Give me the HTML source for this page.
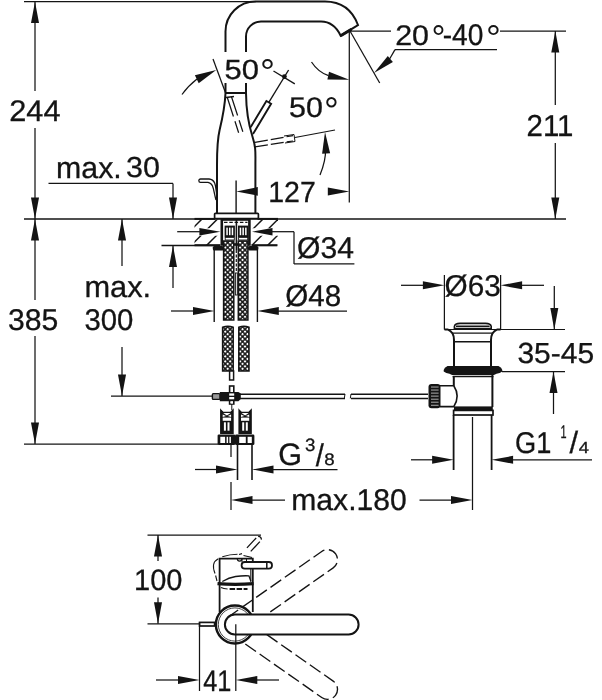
<!DOCTYPE html>
<html><head><meta charset="utf-8"><title>Drawing</title>
<style>
html,body{margin:0;padding:0;background:#fff;}
svg{display:block;will-change:transform;}
text{font-family:"Liberation Sans",sans-serif;fill:#141414;text-rendering:geometricPrecision;}
</style></head><body>
<svg width="602" height="700" viewBox="0 0 602 700">
<rect width="602" height="700" fill="#fff"/>
<line x1="24" y1="1.5" x2="256" y2="1.5" stroke="#141414" stroke-width="1.25" />
<line x1="24" y1="219" x2="566" y2="219" stroke="#141414" stroke-width="1.3" />
<line x1="24" y1="444" x2="218" y2="444" stroke="#141414" stroke-width="1.25" />
<line x1="35" y1="2" x2="35" y2="91" stroke="#141414" stroke-width="1.25" />
<line x1="35" y1="128" x2="35" y2="300" stroke="#141414" stroke-width="1.25" />
<line x1="35" y1="336" x2="35" y2="444" stroke="#141414" stroke-width="1.25" />
<polygon points="35.0,1.5 39.0,23.0 31.0,23.0" fill="#141414"/>
<polygon points="35.0,219.0 31.0,197.5 39.0,197.5" fill="#141414"/>
<polygon points="35.0,219.0 39.0,240.5 31.0,240.5" fill="#141414"/>
<polygon points="35.0,444.0 31.0,422.5 39.0,422.5" fill="#141414"/>
<text x="9.26" y="121.20" font-size="29.86" textLength="51.27" lengthAdjust="spacingAndGlyphs" stroke="#141414" stroke-width="0.3">244</text>
<text x="8.09" y="329.50" font-size="30.0" textLength="50.32" lengthAdjust="spacingAndGlyphs" stroke="#141414" stroke-width="0.3">385</text>
<text x="56.13" y="177.60" font-size="30" textLength="65.66" lengthAdjust="spacingAndGlyphs" stroke="#141414" stroke-width="0.3">max.</text>
<text x="125.98" y="177.31" font-size="28.87" textLength="33.91" lengthAdjust="spacingAndGlyphs" stroke="#141414" stroke-width="0.3">30</text>
<line x1="48.5" y1="183.4" x2="173" y2="183.4" stroke="#141414" stroke-width="1.25" />
<line x1="173" y1="183.4" x2="173" y2="219" stroke="#141414" stroke-width="1.25" />
<polygon points="173.0,219.0 169.0,197.5 177.0,197.5" fill="#141414"/>
<line x1="161.5" y1="245.5" x2="220" y2="245.5" stroke="#141414" stroke-width="1.3" />
<line x1="252" y1="245.5" x2="277" y2="245.5" stroke="#141414" stroke-width="1.3" />
<polygon points="173.0,245.5 177.0,267.0 169.0,267.0" fill="#141414"/>
<line x1="173" y1="245.5" x2="173" y2="288" stroke="#141414" stroke-width="1.25" />
<polygon points="122.0,219.0 126.0,240.5 118.0,240.5" fill="#141414"/>
<line x1="122" y1="219" x2="122" y2="266" stroke="#141414" stroke-width="1.25" />
<text x="84.40" y="297.40" font-size="30" textLength="66.74" lengthAdjust="spacingAndGlyphs" stroke="#141414" stroke-width="0.3">max.</text>
<text x="84.43" y="329.50" font-size="30.0" textLength="48.95" lengthAdjust="spacingAndGlyphs" stroke="#141414" stroke-width="0.3">300</text>
<line x1="122" y1="347" x2="122" y2="396" stroke="#141414" stroke-width="1.25" />
<polygon points="122.0,396.0 118.0,374.5 126.0,374.5" fill="#141414"/>
<line x1="111" y1="396" x2="213" y2="396" stroke="#141414" stroke-width="1.25" />
<path d="M225.5,93 V83 M225.5,52 V31.5 A30,30 0 0 1 255.5,1.5 H325 C340,1.5 352,9 358,25 L340.7,35.7 C336,26 330,21.5 321,21.5 H261 A15,15 0 0 0 246,36.5 V52 M246,83 V93" fill="none" stroke="#141414" stroke-width="2.0" />
<line x1="340.7" y1="35.7" x2="351.5" y2="29.3" stroke="#141414" stroke-width="3" />
<line x1="225.5" y1="93" x2="246" y2="93" stroke="#141414" stroke-width="2.0" />
<path d="M225.5,93 C225,105 222,120 219.6,130 S217,150 217,165 V213.6 M246,93 C246.2,110 248.5,124 252.3,136 S255.4,152 255.4,165 V213.6" fill="none" stroke="#141414" stroke-width="2.0" />
<rect x="214.6" y="213.3" width="43.8" height="5.2" rx="0.8" fill="#fff" stroke="#141414" stroke-width="1.7" />
<text x="224.56" y="79.22" font-size="27.75" textLength="34.45" lengthAdjust="spacingAndGlyphs" stroke="#141414" stroke-width="0.3">50</text>
<text x="260.05" y="84.00" font-size="35.71" textLength="15.00" lengthAdjust="spacingAndGlyphs">°</text>
<text x="288.98" y="116.92" font-size="28.45" textLength="33.91" lengthAdjust="spacingAndGlyphs" stroke="#141414" stroke-width="0.3">50</text>
<text x="324.07" y="123.00" font-size="37.14" textLength="14.85" lengthAdjust="spacingAndGlyphs">°</text>
<line x1="213" y1="59" x2="225.6" y2="93" stroke="#141414" stroke-width="1.25" />
<path d="M182,94.5 Q188,86 197,79" fill="none" stroke="#141414" stroke-width="1.25" />
<polygon points="216.2,70.0 198.7,83.3 194.9,75.2" fill="#141414"/>
<path d="M250.6,127.2 L266.4,101.0 L271.1,103.8 L253.0,134.0" fill="none" stroke="#141414" stroke-width="1.9" />
<line x1="268.8" y1="102.4" x2="288.6" y2="70.0" stroke="#141414" stroke-width="1.35" />
<circle cx="284.4" cy="76.6" r="2.4" fill="#141414"/>
<line x1="273.5" y1="71.0" x2="294.8" y2="83.8" stroke="#141414" stroke-width="1.35" />
<path d="M227.3,97.5 L240,137 M231.4,96.5 L243.6,134" fill="none" stroke="#141414" stroke-width="1.25" stroke-dasharray="20 5 12 5"/>
<line x1="226" y1="97.5" x2="234" y2="96.5" stroke="#141414" stroke-width="1.6" />
<path d="M255,142.3 L293,135.6 M255,146.8 L293,141" fill="none" stroke="#141414" stroke-width="1.25" stroke-dasharray="13 3"/>
<path d="M284,136 L294,134.5 L295,141.5 L285,143" fill="none" stroke="#141414" stroke-width="1.0" />
<line x1="295" y1="137.5" x2="335" y2="130" stroke="#141414" stroke-width="1.25" />
<path d="M320,175 Q326,160 325.5,150" fill="none" stroke="#141414" stroke-width="1.25" />
<polygon points="325.0,132.0 330.1,153.3 322.1,153.7" fill="#141414"/>
<line x1="236.1" y1="180.5" x2="236.1" y2="213.3" stroke="#141414" stroke-width="1.4" />
<polygon points="236.3,191.4 257.8,187.1 257.8,195.7" fill="#141414"/>
<polygon points="349.3,191.6 327.8,195.6 327.8,187.6" fill="#141414"/>
<text x="268.26" y="202.20" font-size="29.14" textLength="47.56" lengthAdjust="spacingAndGlyphs" stroke="#141414" stroke-width="0.3">127</text>
<line x1="349.3" y1="31" x2="349.3" y2="202.5" stroke="#141414" stroke-width="1.25" />
<line x1="350" y1="31" x2="391" y2="31" stroke="#141414" stroke-width="1.25" />
<line x1="350" y1="31" x2="379.7" y2="83" stroke="#141414" stroke-width="1.25" />
<path d="M311.5,62 Q318,72 328.5,75.7" fill="none" stroke="#141414" stroke-width="1.25" />
<polygon points="349.3,79.7 327.4,79.5 329.0,71.7" fill="#141414"/>
<text x="395.18" y="45.02" font-size="28.45" textLength="33.81" lengthAdjust="spacingAndGlyphs" stroke="#141414" stroke-width="0.3">20</text>
<text x="431.40" y="50.00" font-size="35.71" textLength="14.00" lengthAdjust="spacingAndGlyphs">°</text>
<text x="442.73" y="45.20" font-size="30" textLength="40.70" lengthAdjust="spacingAndGlyphs" stroke="#141414" stroke-width="0.3">-40</text>
<text x="485.97" y="50.00" font-size="35.71" textLength="14.85" lengthAdjust="spacingAndGlyphs">°</text>
<line x1="395" y1="49.6" x2="497" y2="49.6" stroke="#141414" stroke-width="1.25" />
<line x1="395" y1="49.6" x2="389" y2="60" stroke="#141414" stroke-width="1.25" />
<polygon points="374.0,73.0 387.8,56.0 392.9,62.1" fill="#141414"/>
<line x1="500" y1="31" x2="566" y2="31" stroke="#141414" stroke-width="1.25" />
<line x1="555.3" y1="31" x2="555.3" y2="105" stroke="#141414" stroke-width="1.25" />
<line x1="555.3" y1="143" x2="555.3" y2="219" stroke="#141414" stroke-width="1.25" />
<polygon points="555.3,31.0 559.3,52.5 551.3,52.5" fill="#141414"/>
<polygon points="555.3,219.0 551.3,197.5 559.3,197.5" fill="#141414"/>
<text x="526.53" y="135.80" font-size="30.29" textLength="46.92" lengthAdjust="spacingAndGlyphs" stroke="#141414" stroke-width="0.3">211</text>
<path d="M216,200 C213.5,192 214,183 208,182.3 H200.5 A1.6,1.6 0 0 1 200.5,179 H209 C217,179.5 215.5,190 217,196" fill="none" stroke="#141414" stroke-width="1.3" />
<defs><pattern id="braid" width="3.5" height="3.5" patternUnits="userSpaceOnUse" patternTransform="rotate(45 0 0)"><rect width="3.5" height="3.5" fill="#141414"/><rect x="0.8" y="0.8" width="2.0" height="2.0" fill="#fff"/></pattern>
<clipPath id="hl"><rect x="194.5" y="219.5" width="26" height="8.7"/><rect x="194.5" y="235.8" width="26" height="9.5"/></clipPath>
<clipPath id="hr"><rect x="251.5" y="219.5" width="26.5" height="8.7"/><rect x="251.5" y="235.8" width="26.5" height="9.5"/></clipPath></defs>
<line x1="171" y1="250" x2="206" y2="215" stroke="#141414" stroke-width="1.5" clip-path="url(#hl)"/>
<line x1="186.5" y1="250" x2="221.5" y2="215" stroke="#141414" stroke-width="1.5" clip-path="url(#hl)"/>
<line x1="202" y1="250" x2="237" y2="215" stroke="#141414" stroke-width="1.5" clip-path="url(#hl)"/>
<line x1="232" y1="250" x2="267" y2="215" stroke="#141414" stroke-width="1.5" clip-path="url(#hr)"/>
<line x1="247.3" y1="250" x2="282.3" y2="215" stroke="#141414" stroke-width="1.5" clip-path="url(#hr)"/>
<line x1="263" y1="250" x2="298" y2="215" stroke="#141414" stroke-width="1.5" clip-path="url(#hr)"/>
<line x1="194.5" y1="218.9" x2="215" y2="218.9" stroke="#141414" stroke-width="2.0" />
<line x1="257.5" y1="218.9" x2="278" y2="218.9" stroke="#141414" stroke-width="2.0" />
<line x1="194.5" y1="245.2" x2="220.5" y2="245.2" stroke="#141414" stroke-width="2.0" />
<line x1="251.5" y1="245.2" x2="277.5" y2="245.2" stroke="#141414" stroke-width="2.0" />
<line x1="177.2" y1="231.7" x2="200" y2="231.7" stroke="#141414" stroke-width="1.25" />
<polygon points="220.4,231.7 199.4,235.5 199.4,227.9" fill="#141414"/>
<polygon points="252.0,231.7 272.5,227.9 272.5,235.5" fill="#141414"/>
<line x1="272" y1="231.7" x2="294" y2="231.7" stroke="#141414" stroke-width="1.25" />
<line x1="294" y1="231.7" x2="294" y2="263.9" stroke="#141414" stroke-width="1.25" />
<line x1="294" y1="263.9" x2="354.4" y2="263.9" stroke="#141414" stroke-width="1.25" />
<text x="297.00" y="258.30" font-size="30" textLength="56.91" lengthAdjust="spacingAndGlyphs" stroke="#141414" stroke-width="0.3">Ø34</text>
<rect x="221.8" y="219.5" width="27.6" height="25" rx="0" fill="#fff" stroke="#141414" stroke-width="2.6" />
<line x1="224" y1="222.3" x2="247.5" y2="222.3" stroke="#141414" stroke-width="1.3" stroke-dasharray="3.5 1.8"/>
<rect x="224.6" y="225.6" width="10.3" height="11.6" fill="#141414"/>
<rect x="226.30" y="227.6" width="1.5" height="7.6" fill="#fff"/>
<rect x="229.00" y="227.6" width="1.5" height="7.6" fill="#fff"/>
<rect x="231.70" y="227.6" width="1.5" height="7.6" fill="#fff"/>
<rect x="225.2" y="237.4" width="9.1" height="2.6" fill="#fff" stroke="#141414" stroke-width="0.9"/>
<rect x="238.0" y="225.6" width="10.3" height="11.6" fill="#141414"/>
<rect x="239.70" y="227.6" width="1.5" height="7.6" fill="#fff"/>
<rect x="242.40" y="227.6" width="1.5" height="7.6" fill="#fff"/>
<rect x="245.10" y="227.6" width="1.5" height="7.6" fill="#fff"/>
<rect x="238.6" y="237.4" width="9.1" height="2.6" fill="#fff" stroke="#141414" stroke-width="0.9"/>
<line x1="236.4" y1="220" x2="236.4" y2="250" stroke="#141414" stroke-width="1.6" />
<line x1="236.3" y1="250" x2="236.3" y2="272" stroke="#141414" stroke-width="1.2" stroke-dasharray="3 1.5"/>
<rect x="235.4" y="273" width="1.9" height="22" rx="0" fill="#fff" stroke="#141414" stroke-width="0.9" />
<rect x="212.8" y="246" width="11" height="4.6" rx="1.6" fill="#141414"/>
<rect x="248" y="246" width="10.4" height="4.6" rx="1.6" fill="#141414"/>
<line x1="214.2" y1="250" x2="214.2" y2="322" stroke="#141414" stroke-width="1.4" />
<line x1="257.4" y1="250" x2="257.4" y2="322" stroke="#141414" stroke-width="1.4" />
<rect x="223.6" y="241" width="10.2" height="79" fill="url(#braid)" stroke="#141414" stroke-width="1.5"/>
<rect x="238.3" y="241" width="9.6" height="79" fill="url(#braid)" stroke="#141414" stroke-width="1.5"/>
<path d="M222.6,327.3 Q227.9,325.3 233.2,327.3 V371.0 H222.6 Z" fill="url(#braid)" stroke="#141414" stroke-width="1.5"/>
<path d="M238.8,327.3 Q243.9,325.3 249.0,327.3 V371.0 H238.8 Z" fill="url(#braid)" stroke="#141414" stroke-width="1.5"/>
<line x1="171" y1="311" x2="194" y2="311" stroke="#141414" stroke-width="1.25" />
<polygon points="214.5,311.0 193.0,315.0 193.0,307.0" fill="#141414"/>
<polygon points="257.3,311.0 278.8,307.0 278.8,315.0" fill="#141414"/>
<line x1="278" y1="311" x2="347" y2="311" stroke="#141414" stroke-width="1.25" />
<text x="285.22" y="306.10" font-size="30" textLength="55.97" lengthAdjust="spacingAndGlyphs" stroke="#141414" stroke-width="0.3">Ø48</text>
<rect x="229.6" y="371" width="4.0" height="9" rx="0" fill="#fff" stroke="#141414" stroke-width="1.5" />
<rect x="229.6" y="386" width="4.2" height="18" rx="0" fill="#fff" stroke="#141414" stroke-width="1.6" />
<rect x="212.4" y="393.6" width="7.6" height="5.8" rx="1" fill="#999" stroke="#141414" stroke-width="1.4"/>
<path d="M219.8,391.9 H238.4 L240.8,393.6 V399 L238.4,401.2 H219.8 Z" fill="#141414"/>
<rect x="229.2" y="393.4" width="5" height="2.3" fill="#fff"/>
<rect x="229.2" y="397" width="5" height="2.3" fill="#fff"/>
<rect x="230.6" y="401.6" width="2.4" height="2" fill="#fff"/>
<line x1="231.8" y1="404" x2="231.8" y2="410" stroke="#141414" stroke-width="1.0" />
<path d="M240,394.2 H345 M240,398.4 H345 M351,394.2 H428 M351,398.4 H428" fill="none" stroke="#141414" stroke-width="1.5" />
<line x1="345" y1="394" x2="344.3" y2="398.4" stroke="#141414" stroke-width="1" />
<line x1="351" y1="394" x2="350.3" y2="398.4" stroke="#141414" stroke-width="1" />
<path d="M220.7,409.8 L223.2,412.3 H230.6 L233.1,409.8 V433.5 H220.7 Z" fill="#141414" stroke="#141414" stroke-width="1.2"/>
<path d="M223.2,413 L226.89999999999998,415.6 L230.6,413 Z M222.7,417 L226.09999999999997,416 L222.7,414.5 Z M231.1,417 L227.7,416 L231.1,414.5 Z" fill="#fff"/>
<rect x="222.7" y="417.6" width="8.4" height="3.2" fill="#fff"/>
<rect x="223.90" y="422.3" width="2.0" height="8.4" fill="#fff"/>
<rect x="227.50" y="422.3" width="2.0" height="8.4" fill="#fff"/>
<path d="M239,409.8 L241.5,412.3 H248.7 L251.2,409.8 V433.5 H239 Z" fill="#141414" stroke="#141414" stroke-width="1.2"/>
<path d="M241.5,413 L245.1,415.6 L248.7,413 Z M241,417 L244.29999999999998,416 L241,414.5 Z M249.2,417 L245.9,416 L249.2,414.5 Z" fill="#fff"/>
<rect x="241" y="417.6" width="8.2" height="3.2" fill="#fff"/>
<rect x="242.20" y="422.3" width="2.0" height="8.4" fill="#fff"/>
<rect x="245.80" y="422.3" width="2.0" height="8.4" fill="#fff"/>
<rect x="217.6" y="434.5" width="17.6" height="10.6" rx="1.3" fill="#141414"/>
<rect x="235" y="434.5" width="19.4" height="10.6" rx="1.3" fill="#141414"/>
<rect x="220.3" y="436.8" width="4.8" height="6.2" fill="#fff"/>
<rect x="226.6" y="436.8" width="1.5" height="6.2" fill="#fff"/>
<rect x="229.4" y="436.8" width="1.5" height="6.2" fill="#fff"/>
<rect x="239.2" y="436.8" width="6.6" height="6.2" fill="#fff"/>
<rect x="247.6" y="436.8" width="4.2" height="6.2" fill="#fff"/>
<line x1="231" y1="445" x2="231" y2="457" stroke="#141414" stroke-width="1.25" />
<line x1="231" y1="482" x2="231" y2="510" stroke="#141414" stroke-width="1.25" />
<line x1="237.5" y1="445" x2="237.5" y2="480" stroke="#141414" stroke-width="1.6" />
<line x1="252" y1="445" x2="252" y2="480" stroke="#141414" stroke-width="1.6" />
<line x1="195" y1="469.5" x2="217" y2="469.5" stroke="#141414" stroke-width="1.25" />
<polygon points="237.5,469.5 216.0,473.5 216.0,465.5" fill="#141414"/>
<polygon points="252.0,469.5 273.5,465.5 273.5,473.5" fill="#141414"/>
<line x1="272" y1="469.5" x2="337.5" y2="469.5" stroke="#141414" stroke-width="1.25" />
<text x="278.37" y="465.29" font-size="30.99" textLength="23.75" lengthAdjust="spacingAndGlyphs" stroke="#141414" stroke-width="0.3">G</text>
<text x="304.95" y="450.82" font-size="17.89" textLength="10.41" lengthAdjust="spacingAndGlyphs" stroke="#141414" stroke-width="0.3">3</text>
<text x="315.80" y="465.88" font-size="31.56" textLength="8.08" lengthAdjust="spacingAndGlyphs" stroke="#141414" stroke-width="0.3">/</text>
<text x="324.26" y="465.43" font-size="16.76" textLength="10.41" lengthAdjust="spacingAndGlyphs" stroke="#141414" stroke-width="0.3">8</text>
<polygon points="231.0,500.0 252.5,496.0 252.5,504.0" fill="#141414"/>
<line x1="251" y1="500" x2="285" y2="500" stroke="#141414" stroke-width="1.25" />
<text x="291.24" y="509.50" font-size="30" textLength="115.58" lengthAdjust="spacingAndGlyphs" stroke="#141414" stroke-width="0.3">max.180</text>
<line x1="419.5" y1="500" x2="452" y2="500" stroke="#141414" stroke-width="1.25" />
<polygon points="472.5,500.0 451.0,504.0 451.0,496.0" fill="#141414"/>
<line x1="472.5" y1="417" x2="472.5" y2="510" stroke="#141414" stroke-width="1.25" />
<line x1="444.4" y1="275" x2="444.4" y2="329.5" stroke="#141414" stroke-width="1.25" />
<line x1="500.6" y1="275" x2="500.6" y2="329.5" stroke="#141414" stroke-width="1.25" />
<line x1="401" y1="285.3" x2="424" y2="285.3" stroke="#141414" stroke-width="1.25" />
<polygon points="444.4,285.3 422.9,289.3 422.9,281.3" fill="#141414"/>
<polygon points="500.6,285.3 522.1,281.3 522.1,289.3" fill="#141414"/>
<line x1="521" y1="285.3" x2="544" y2="285.3" stroke="#141414" stroke-width="1.25" />
<text x="444.51" y="296.40" font-size="30" textLength="56.23" lengthAdjust="spacingAndGlyphs" stroke="#141414" stroke-width="0.3">Ø63</text>
<line x1="554.3" y1="286" x2="554.3" y2="329.5" stroke="#141414" stroke-width="1.25" />
<polygon points="554.3,329.5 550.3,308.0 558.3,308.0" fill="#141414"/>
<line x1="444.4" y1="329.5" x2="565" y2="329.5" stroke="#141414" stroke-width="1.2" />
<text x="517.40" y="362.61" font-size="29.01" textLength="76.78" lengthAdjust="spacingAndGlyphs" stroke="#141414" stroke-width="0.3">35-45</text>
<line x1="502" y1="371.5" x2="565" y2="371.5" stroke="#141414" stroke-width="1.25" />
<polygon points="553.5,371.5 557.5,393.0 549.5,393.0" fill="#141414"/>
<line x1="553.5" y1="371.5" x2="553.5" y2="414" stroke="#141414" stroke-width="1.25" />
<path d="M454.4,328.6 V326.4 Q455,323.4 460,323.4 H485.5 Q490.6,323.4 491.2,326.4 V328.6 Z" fill="#fff" stroke="#141414" stroke-width="1.6"/>
<line x1="456" y1="326.2" x2="489.6" y2="326.2" stroke="#141414" stroke-width="1.5" />
<path d="M444.5,329.6 H448 C451.5,331 454,334.5 454,340 V366 M500.6,329.6 H497 C493.5,331 491,334.5 491,340 V366" fill="none" stroke="#141414" stroke-width="2.0" />
<line x1="452" y1="333.2" x2="493" y2="333.2" stroke="#141414" stroke-width="1.2" />
<line x1="454.5" y1="341.8" x2="490.5" y2="341.8" stroke="#141414" stroke-width="1.4" />
<path d="M447.5,366 H498.5 Q501.8,367.6 502.3,370 V371.4 Q500,373.3 496.5,373.8 Q494.5,375.2 492.5,375.2 H453.5 Q451.5,375.2 449.5,373.8 Q446,373.3 443.7,371.4 V370 Q444.2,367.6 447.5,366 Z" fill="#141414"/>
<line x1="452.5" y1="376.6" x2="493.5" y2="376.6" stroke="#141414" stroke-width="1.3" />
<path d="M453.8,377 V385.7 M492.4,375 V407" fill="none" stroke="#141414" stroke-width="2.0" />
<path d="M440,385.7 H453.8 Q460.5,396 453.8,406.6 H440" fill="none" stroke="#141414" stroke-width="1.6" />
<rect x="428.5" y="384" width="12" height="24.2" rx="3" fill="#141414"/>
<rect x="431" y="386.4" width="7.6" height="1.3" fill="#fff" opacity="0.5"/>
<rect x="431" y="389.4" width="7.6" height="1.3" fill="#fff" opacity="0.5"/>
<rect x="431" y="392.5" width="7.6" height="1.3" fill="#fff" opacity="0.5"/>
<rect x="431" y="395.5" width="7.6" height="1.3" fill="#fff" opacity="0.5"/>
<rect x="431" y="398.6" width="7.6" height="1.3" fill="#fff" opacity="0.5"/>
<rect x="431" y="401.6" width="7.6" height="1.3" fill="#fff" opacity="0.5"/>
<rect x="431" y="404.7" width="7.6" height="1.3" fill="#fff" opacity="0.5"/>
<rect x="454" y="406.4" width="38.8" height="4.2" fill="#141414"/>
<rect x="453.6" y="410.4" width="39.4" height="4.6" rx="0" fill="#fff" stroke="#141414" stroke-width="1.7" />
<line x1="453.6" y1="415" x2="453.6" y2="470" stroke="#141414" stroke-width="1.8" />
<line x1="491.6" y1="415" x2="491.6" y2="470" stroke="#141414" stroke-width="1.8" />
<line x1="411" y1="459.8" x2="433" y2="459.8" stroke="#141414" stroke-width="1.25" />
<polygon points="453.6,459.8 432.1,463.8 432.1,455.8" fill="#141414"/>
<polygon points="491.6,459.8 513.1,455.8 513.1,463.8" fill="#141414"/>
<line x1="511" y1="459.8" x2="592" y2="459.8" stroke="#141414" stroke-width="1.25" />
<text x="515.04" y="452.60" font-size="30" textLength="36.29" lengthAdjust="spacingAndGlyphs" stroke="#141414" stroke-width="0.3">G1</text>
<text x="560.58" y="438.00" font-size="18.41" textLength="6.08" lengthAdjust="spacingAndGlyphs" stroke="#141414" stroke-width="0.3">1</text>
<text x="569.50" y="452.59" font-size="30.75" textLength="8.59" lengthAdjust="spacingAndGlyphs" stroke="#141414" stroke-width="0.3">/</text>
<text x="578.84" y="452.60" font-size="16.09" textLength="10.23" lengthAdjust="spacingAndGlyphs" stroke="#141414" stroke-width="0.3">4</text>
<line x1="147.5" y1="535" x2="261" y2="535" stroke="#141414" stroke-width="1.25" />
<line x1="158" y1="535" x2="158" y2="561" stroke="#141414" stroke-width="1.25" />
<polygon points="158.0,535.0 162.0,556.5 154.0,556.5" fill="#141414"/>
<line x1="158" y1="597.5" x2="158" y2="623.8" stroke="#141414" stroke-width="1.25" />
<polygon points="158.0,623.8 154.0,602.3 162.0,602.3" fill="#141414"/>
<text x="134.02" y="590.20" font-size="29.58" textLength="48.44" lengthAdjust="spacingAndGlyphs" stroke="#141414" stroke-width="0.3">100</text>
<line x1="199.5" y1="622" x2="199.5" y2="691" stroke="#141414" stroke-width="1.25" />
<line x1="156" y1="680" x2="179" y2="680" stroke="#141414" stroke-width="1.25" />
<polygon points="199.5,680.0 178.0,684.0 178.0,676.0" fill="#141414"/>
<polygon points="235.8,680.0 257.3,676.0 257.3,684.0" fill="#141414"/>
<line x1="256" y1="680" x2="279" y2="680" stroke="#141414" stroke-width="1.25" />
<text x="203.17" y="690.50" font-size="29.71" textLength="28.16" lengthAdjust="spacingAndGlyphs" stroke="#141414" stroke-width="0.3">41</text>
<line x1="147.5" y1="623.9" x2="199.5" y2="623.9" stroke="#141414" stroke-width="1.25" />
<rect x="199.6" y="622.4" width="15" height="3.6" rx="0" fill="#fff" stroke="#141414" stroke-width="1.7" />
<path d="M219.6,612 V558.6 H252.8 V612" fill="#fff" stroke="#141414" stroke-width="1.8" />
<line x1="250.8" y1="568.5" x2="250.8" y2="582" stroke="#141414" stroke-width="1.1" />
<path d="M217.5,583.6 Q235,585.2 253.6,583.6" fill="none" stroke="#141414" stroke-width="3.4" />
<path d="M222.3,581.5 Q229,577.5 235.6,576.5 T248.9,575.8 L250.8,581" fill="none" stroke="#141414" stroke-width="1.3" />
<path d="M221,587.6 Q223.5,589 227.6,589" fill="none" stroke="#141414" stroke-width="1.1" />
<path d="M229.6,589 H247.5" fill="none" stroke="#141414" stroke-width="2.0" stroke-dasharray="5.5 1.5"/>
<path d="M218.3,558.8 C214,561 212,566 215,573.5 M215.6,575.5 L217,581" fill="none" stroke="#141414" stroke-width="1.1" />
<path d="M222.3,556.8 Q230,554.3 237.5,554.3 M239,554.5 L242,553.6 M243.5,555.5 Q248,556.3 252,557.6" fill="none" stroke="#141414" stroke-width="1.1" />
<path d="M237.3,558.8 A2.3,2.3 0 0 0 241.9,558.8" fill="none" stroke="#141414" stroke-width="1.1" />
<path d="M242,562 V558.8 M246.5,558.8 V562" fill="none" stroke="#141414" stroke-width="1.0" />
<g transform="rotate(-47 248.85 549.65)"><path d="M248.85,547.05 H263.3 A2.6,2.6 0 0 1 263.3,552.25 H248.85" fill="none" stroke="#141414" stroke-width="1.3" stroke-dasharray="13.5 2.5 5 2.5"/></g>
<circle cx="234.9" cy="624.5" r="19.0" fill="#fff" stroke="#141414" stroke-width="2.4"/>
<circle cx="234.9" cy="624.5" r="16.6" fill="none" stroke="#141414" stroke-width="0.8"/>
<g transform="rotate(-35 234.9 624.5)"><path d="M232.9,614.5 H347.9 A10,10 0 0 1 347.9,634.5 H266.9" fill="none" stroke="#141414" stroke-width="1.35" stroke-dasharray="13 4.5"/></g>
<g transform="rotate(35 234.9 624.5)"><path d="M266.9,614.5 H347.9 A10,10 0 0 1 347.9,634.5 H251.9" fill="none" stroke="#141414" stroke-width="1.35" stroke-dasharray="13 4.5"/></g>
<rect x="241.6" y="562" width="30.4" height="6.6" rx="3.2" fill="#fff" stroke="#141414" stroke-width="1.8" />
<line x1="266.8" y1="562" x2="266.8" y2="568.6" stroke="#141414" stroke-width="1.5" />
<path d="M234.9,614.5 H348.6 A10,10 0 0 1 348.6,634.5 H234.9 A10,10 0 0 1 234.9,614.5 Z" fill="#fff" stroke="#141414" stroke-width="2.0"/>
<line x1="235.8" y1="624.3" x2="235.8" y2="691" stroke="#141414" stroke-width="1.25" />
</svg>
</body></html>
